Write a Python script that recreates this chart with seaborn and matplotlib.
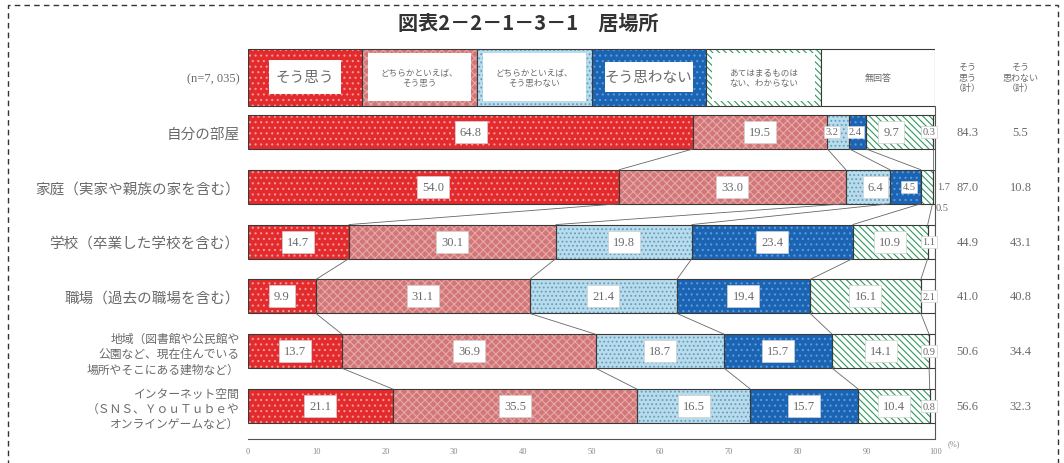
import numpy as np
import pandas as pd
import matplotlib
matplotlib.use("Agg")
import matplotlib.pyplot as plt
from matplotlib.patches import Rectangle
import seaborn as sns

# ---- data ----
PLACES = [
    "自分の部屋",
    "家庭（実家や親族の家を含む）",
    "学校（卒業した学校を含む）",
    "職場（過去の職場を含む）",
    "地域（図書館や公民館や\n公園など、現在住んでいる\n場所やそこにある建物など）",
    "インターネット空間\n（ＳＮＳ、ＹｏｕＴｕｂｅや\nオンラインゲームなど）",
]
RESPONSES = [
    "そう思う",
    "どちらかといえば、\nそう思う",
    "どちらかといえば、\nそう思わない",
    "そう思わない",
    "あてはまるものは\nない、わからない",
    "無回答",
]
SOU_OMOU = [64.8, 54.0, 14.7, 9.9, 13.7, 21.1]
DOCHIRA_OMOU = [19.5, 33.0, 30.1, 31.1, 36.9, 35.5]
DOCHIRA_OMOWANAI = [3.2, 6.4, 19.8, 21.4, 18.7, 16.5]
SOU_OMOWANAI = [2.4, 4.5, 23.4, 19.4, 15.7, 15.7]
ATEHAMARANAI = [9.7, 1.7, 10.9, 16.1, 14.1, 10.4]
MUKAITOU = [0.3, 0.5, 1.1, 2.1, 0.9, 0.8]
TOTAL_OMOU = [84.3, 87.0, 44.9, 41.0, 50.6, 56.6]
TOTAL_OMOWANAI = [5.5, 10.8, 43.1, 40.8, 34.4, 32.3]
N_LABEL = "(n=7, 035)"
TITLE = "図表2－2－1－3－1　居場所"
XTICKS = list(range(0, 101, 10))

# ---- styles ----
FACE = ["#e32a2c", "#d27677", "#b9dbea", "#1b64b4", "#ffffff", "#ffffff"]
HATCH = ["...", "xxxx", "....", "...", "\\\\\\\\\\", None]
HATCH_COL = ["#f59a9a", "#e6a9a9", "#5f9fc6", "#5b9bd9", "#2f9a5c", "#ffffff"]
BAR_H = 0.62
TXT = "#6a6a6a"
NUM_FONT = ["Liberation Serif", "DejaVu Serif"]

sns.set_theme(style="white")
plt.rcParams["font.family"] = ["Noto Sans CJK JP", "DejaVu Sans"]
plt.rcParams["hatch.linewidth"] = 0.8

series = [SOU_OMOU, DOCHIRA_OMOU, DOCHIRA_OMOWANAI, SOU_OMOWANAI, ATEHAMARANAI, MUKAITOU]
vals = np.array(series).T                     # rows = places
cum = np.cumsum(vals, axis=1)
left = cum - vals

df = pd.DataFrame({"place": PLACES})
for k in range(6):
    df[f"cum{k}"] = cum[:, k]

fig = plt.figure(figsize=(10.64, 4.64), dpi=100)
ax = fig.add_axes([0.233, 0.0517, 0.646, 0.851])

# stacked bars: draw cumulative totals from the widest down
for k in range(5, -1, -1):
    sns.barplot(data=df, x=f"cum{k}", y="place", orient="h", order=PLACES,
                color=FACE[k], saturation=1, width=BAR_H, errorbar=None,
                hatch=HATCH[k], edgecolor=HATCH_COL[k], linewidth=0, ax=ax)

ypos = np.arange(len(PLACES))
for k in range(6):
    ax.barh(ypos, vals[:, k], left=left[:, k], height=BAR_H, fill=False,
            edgecolor="#3a3a3a", linewidth=0.8)

# connector lines between rows
for i in range(len(PLACES) - 1):
    for k in range(5):
        ax.plot([cum[i, k], cum[i + 1, k]], [i + BAR_H / 2, i + 1 - BAR_H / 2],
                color="#666666", lw=0.6)

# value labels
x_override = {(0, 2): 85.0, (0, 3): 88.4, (0, 4): 93.6, (0, 5): 99.1,
              (1, 2): 91.3, (1, 3): 96.2, (1, 4): 101.2, (1, 5): 101.0}
y_override = {(1, 5): 1.38}
for i in range(len(PLACES)):
    for k in range(6):
        x = x_override.get((i, k), 99.1 if k == 5 else left[i, k] + vals[i, k] / 2)
        y = y_override.get((i, k), i)
        small = vals[i, k] < 5 or k == 5
        if (i, k) in [(1, 4), (1, 5)]:
            bb = None
        else:
            bb = dict(boxstyle="square,pad=%s" % (0.15 if small else 0.4),
                      fc="white", ec="#d0d0d0", lw=0.5)
        ax.text(x, y, f"{vals[i, k]:.1f}", ha="center", va="center",
                fontsize=7.5 if small else 9, color=TXT, bbox=bb, clip_on=False,
                family=NUM_FONT)

# legend bar at the top
LEG_Y = -1
LEG_H = 1.04
seg = 100 / 6
LEG_BOX_W = [10.5, 15.0, 15.0, 12.8, 15.0, 0]
LEG_BOX_H = [0.62, 0.86, 0.86, 0.56, 0.86, 0]
LEG_FS = [10.5, 6.2, 6.2, 10.5, 6.2, 6.5]
for k in range(6):
    ax.barh(LEG_Y, seg, left=k * seg, height=LEG_H, color=FACE[k],
            hatch=HATCH[k], edgecolor=HATCH_COL[k], linewidth=0)
    ax.barh(LEG_Y, seg, left=k * seg, height=LEG_H, fill=False,
            edgecolor="#3a3a3a", linewidth=0.8)
    if LEG_BOX_W[k]:
        ax.barh(LEG_Y, LEG_BOX_W[k], left=k * seg + (seg - LEG_BOX_W[k]) / 2,
                height=LEG_BOX_H[k], color="white", linewidth=0)
    ax.text(k * seg + seg / 2, LEG_Y, RESPONSES[k], ha="center", va="center",
            fontsize=LEG_FS[k], color=TXT, linespacing=1.3)

# right vertical guide
ax.plot([100, 100], [LEG_Y + LEG_H / 2, 5.6], color="#555555", lw=0.8, clip_on=False)

# totals columns
COL_X = [104.7, 112.4]
ax.text(COL_X[0], LEG_Y, "そう\n思う\n（計）", ha="center", va="center",
        fontsize=6.5, color=TXT, clip_on=False, linespacing=1.25)
ax.text(COL_X[1], LEG_Y, "そう\n思わない\n（計）", ha="center", va="center",
        fontsize=6.5, color=TXT, clip_on=False, linespacing=1.25)
for i in range(len(PLACES)):
    ax.text(COL_X[0], i, f"{TOTAL_OMOU[i]:.1f}", ha="center", va="center",
            fontsize=9, color=TXT, clip_on=False, family=NUM_FONT)
    ax.text(COL_X[1], i, f"{TOTAL_OMOWANAI[i]:.1f}", ha="center", va="center",
            fontsize=9, color=TXT, clip_on=False, family=NUM_FONT)

# axes cosmetics
ax.set_xlim(0, 100)
ax.set_ylim(5.6, -1.6)
ax.set_xlabel("")
ax.set_ylabel("")
for s in ["top", "left", "right"]:
    ax.spines[s].set_visible(False)
ax.spines["bottom"].set_color("#555555")
ax.spines["bottom"].set_linewidth(0.8)
ax.set_xticks(XTICKS)
ax.set_xticklabels([str(t) for t in XTICKS], fontsize=6, color="#888888",
                   family=NUM_FONT)
ax.tick_params(axis="x", direction="in", length=5, width=0.8, color="#555555", pad=6)
ax.text(101.8, 5.6, "(%)", fontsize=6, color="#888888", ha="left", va="top",
        clip_on=False, family=NUM_FONT)

ax.set_yticks([LEG_Y] + list(ypos))
ax.set_yticklabels([N_LABEL] + PLACES)
ax.tick_params(axis="y", length=0, pad=6)
for lab in ax.get_yticklabels():
    txt = lab.get_text()
    multi = "\n" in txt
    lab.set_fontsize(8.5 if multi else 10.5)
    lab.set_color(TXT)
    lab.set_linespacing(1.2)
    lab.set_multialignment("right")
    if txt == N_LABEL:
        lab.set_fontsize(9)
        lab.set_family(NUM_FONT)

fig.text(0.497, 0.95, TITLE, ha="center", va="center", fontsize=14.5,
         color="#333333", weight="bold")

fig.add_artist(Rectangle((0.0075, -0.02), 0.9865, 1.007, transform=fig.transFigure,
                         fill=False, edgecolor="#333333", lw=1.0, ls=(0, (4, 3))))

fig.savefig("out.png", dpi=100)
